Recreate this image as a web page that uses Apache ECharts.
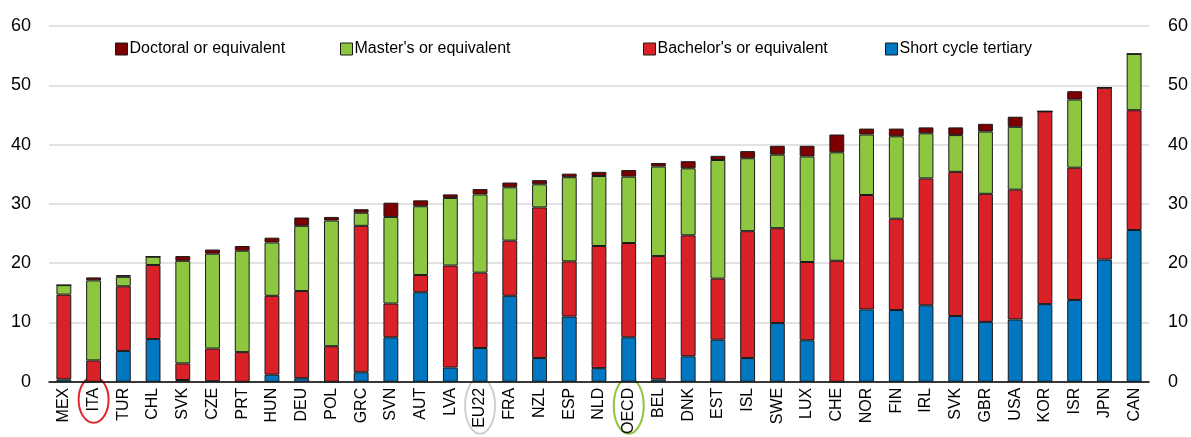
<!DOCTYPE html>
<html>
<head>
<meta charset="utf-8">
<script src="https://cdn.jsdelivr.net/npm/echarts@6/dist/echarts.min.js"></script>
<style>
    html, body { margin: 0; padding: 0; background: #fff; }
    #chart { width: 1191px; height: 437px; }
</style>
</head>
<body>
<div id="chart"></div>
<script>
const categories = ['MEX', 'ITA', 'TUR', 'CHL', 'SVK', 'CZE', 'PRT', 'HUN', 'DEU', 'POL',
    'GRC', 'SVN', 'AUT', 'LVA', 'EU22', 'FRA', 'NZL', 'ESP', 'NLD', 'OECD',
    'BEL', 'DNK', 'EST', 'ISL', 'SWE', 'LUX', 'CHE', 'NOR', 'FIN', 'IRL',
    'SVK', 'GBR', 'USA', 'KOR', 'ISR', 'JPN', 'CAN'];

const shortCycle = [0.4, 0, 5.2, 7.2, 0.3, 0.1, 0, 1.2, 0.6, 0,
    1.6, 7.5, 15.1, 2.4, 5.7, 14.5, 4.0, 11.0, 2.3, 7.5,
    0.4, 4.3, 7.1, 4.0, 9.9, 7.0, 0, 12.2, 12.1, 12.9,
    11.1, 10.1, 10.5, 13.1, 13.8, 20.6, 25.6];

const bachelor = [14.3, 3.6, 10.9, 12.5, 2.8, 5.5, 5.0, 13.3, 14.7, 6.0,
    24.7, 5.7, 2.9, 17.2, 12.7, 9.3, 25.4, 9.3, 20.6, 15.9,
    20.8, 20.4, 10.3, 21.4, 16.0, 13.2, 20.4, 19.3, 15.4, 21.4,
    24.3, 21.6, 21.9, 32.5, 22.3, 29.0, 20.2];

const master = [1.6, 13.5, 1.6, 1.4, 17.3, 16.0, 17.1, 9.0, 11.0, 21.2,
    2.2, 14.6, 11.6, 11.4, 13.2, 9.0, 3.9, 14.2, 11.8, 11.2,
    15.1, 11.3, 20.0, 12.3, 12.4, 17.8, 18.3, 10.2, 13.9, 7.6,
    6.2, 10.5, 10.6, 0, 11.5, 0, 9.5];

const doctoral = [0, 0.5, 0.3, 0, 0.8, 0.7, 0.8, 0.8, 1.4, 0.6,
    0.6, 2.4, 1.0, 0.6, 0.9, 0.8, 0.7, 0.6, 0.7, 1.1,
    0.6, 1.2, 0.7, 1.2, 1.5, 1.8, 3.0, 1.0, 1.3, 1.0,
    1.3, 1.3, 1.7, 0, 1.4, 0, 0];

const seriesNames = ['Short cycle tertiary', "Bachelor's or equivalent", "Master's or equivalent", 'Doctoral or equivalent'];
const seriesColors = ['#0077c0', '#da2128', '#8dc63f', '#7d0000'];

// highlighted labels: category index and ring colour
const circled = [
    { index: 1, color: '#e0262b' },
    { index: 14, color: '#d0d0d0' },
    { index: 19, color: '#8dc63f' }
];

const FONT = '"Liberation Sans", Arial, sans-serif';

const chart = echarts.init(document.getElementById('chart'));

function makeSeries(name, values, color) {
    return {
        name: name,
        type: 'bar',
        stack: 'total',
        barWidth: '50%',
        data: values,
        itemStyle: {
            color: color,
            borderColor: '#1a1a1a',
            borderWidth: 1
        },
        emphasis: { disabled: true }
    };
}

function legendAt(name, left) {
    return {
        data: [name],
        left: left,
        top: 36,
        icon: 'rect',
        itemWidth: 12,
        itemHeight: 12,
        itemStyle: { borderColor: '#1a1a1a', borderWidth: 1 },
        textStyle: { fontFamily: FONT, fontSize: 16, color: '#000', padding: [0, 0, 0, -3] }
    };
}

const yAxisBase = {
    type: 'value',
    min: 0,
    max: 60,
    interval: 10,
    axisLine: { show: false },
    axisTick: { show: false },
    axisLabel: { fontFamily: FONT, fontSize: 18, color: '#000' }
};

const option = {
    animation: false,
    legend: [
        legendAt(seriesNames[3], 110),
        legendAt(seriesNames[2], 335),
        legendAt(seriesNames[1], 638),
        legendAt(seriesNames[0], 880)
    ],
    grid: { left: 49, right: 41, top: 26, bottom: 48 },
    xAxis: {
        type: 'category',
        data: categories,
        axisLine: { lineStyle: { color: '#000', width: 1.5 } },
        axisTick: { inside: true, length: 5, lineStyle: { color: '#000', width: 1.5 } },
        axisLabel: {
            rotate: 90,
            interval: 0,
            margin: 6,
            fontFamily: FONT,
            fontSize: 16,
            color: '#000'
        }
    },
    yAxis: [
        Object.assign({}, yAxisBase, {
            position: 'left',
            axisLabel: Object.assign({}, yAxisBase.axisLabel, { margin: 18 }),
            splitLine: { lineStyle: { color: '#d9d9d9', width: 1.5 } }
        }),
        Object.assign({}, yAxisBase, {
            position: 'right',
            axisLabel: Object.assign({}, yAxisBase.axisLabel, { margin: 19 }),
            splitLine: { show: false }
        })
    ],
    series: [
        makeSeries(seriesNames[0], shortCycle, seriesColors[0]),
        makeSeries(seriesNames[1], bachelor, seriesColors[1]),
        makeSeries(seriesNames[2], master, seriesColors[2]),
        makeSeries(seriesNames[3], doctoral, seriesColors[3])
    ]
};

chart.setOption(option);

// rings round the highlighted country labels, placed from the axes
function drawRings() {
    const baseY = chart.convertToPixel({ yAxisIndex: 0 }, 0);
    const rings = circled.map(c => {
        const cx = chart.convertToPixel({ xAxisIndex: 0 }, c.index);
        const long = categories[c.index].length > 3;
        return {
            type: 'ellipse',
            shape: { cx: cx, cy: baseY + (long ? 24 : 18), rx: 15, ry: long ? 28 : 23 },
            style: { fill: 'none', stroke: c.color, lineWidth: 2 },
            silent: true
        };
    });
    chart.setOption({ graphic: rings });
}
drawRings();
</script>
</body>
</html>
